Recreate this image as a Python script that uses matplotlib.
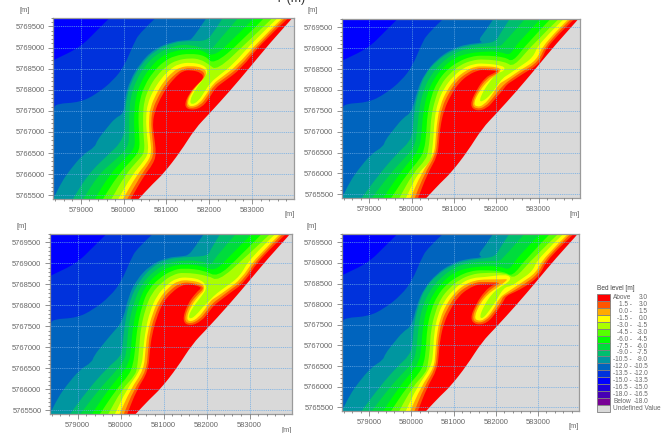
import matplotlib
matplotlib.use('Agg')
import matplotlib.pyplot as plt
from matplotlib.patches import PathPatch, Rectangle
from matplotlib.path import Path
from matplotlib.ticker import MultipleLocator

plt.rcParams['font.family'] = ['Liberation Sans', 'DejaVu Sans']

# Contours are in km from this origin (x east, y north)
X0 = 578000
Y0 = 5765000

X_TICKS = [579000, 580000, 581000, 582000, 583000]
Y_TICKS = [5765500, 5766000, 5766500, 5767000, 5767500, 5768000, 5768500, 5769000, 5769500]

LEVELS = [-10.5, -9, -7.5, -6, -4.5, -3, -1.5, 0, 1.5, 3]
BAND_COLOURS = ['#0096a0', '#00be6e', '#00dc3c', '#00ff00', '#55ff00', '#aaff00',
                '#ffff00', '#ffaa00', '#ff5500', '#ff0000']
BACKGROUND = '#0000ff'
COLOUR_135 = '#0032dc'
COLOUR_120 = '#0064be'
UNDEFINED = '#d9d9d9'

C_135 = [(1.72, 4.75), (1.37, 4.40), (0.98, 4.00), (0.35, 3.70), (0.10, 3.55)]
C_120 = [(2.80, 4.75), (2.38, 4.36), (2.23, 4.08), (2.02, 3.57), (1.76, 3.22), (1.37, 2.90),
         (0.98, 2.70), (0.43, 2.67), (0.36, 2.55), (0.35, 1.90), (0.30, 1.70)]
C_UNDEF = [(5.98, 4.75), (5.93, 4.68), (5.43, 4.12), (4.95, 3.53), (4.49, 2.98), (4.00, 2.43),
           (3.67, 2.08), (3.32, 1.52), (2.93, 1.01), (2.69, 0.78), (2.34, 0.40), (2.30, 0.35)]

UPPER = {
    -10.5: [(3.97, 4.75), (3.71, 4.36), (3.58, 4.20)],
    -9: [(4.35, 4.75), (4.10, 4.36)],
    -7.5: [(4.72, 4.75), (4.18, 4.12)],
    -6: [(5.10, 4.75), (4.49, 4.12)],
    -4.5: [(5.33, 4.75), (4.73, 4.12)],
    -3: [(5.53, 4.75), (4.88, 4.12)],
    -1.5: [(5.65, 4.75), (5.00, 4.12)],
    0: [(5.76, 4.75), (5.12, 4.12)],
    1.5: [(5.82, 4.75), (5.18, 4.12)],
    3: [(5.90, 4.75), (5.23, 4.12)],
}
LOWER = {
    -10.5: [(1.80, 2.33), (1.59, 2.07), (1.38, 1.80), (1.33, 1.64), (1.05, 1.47), (0.74, 1.09),
            (0.55, 0.81), (0.35, 0.40), (0.33, 0.35)],
    -9: [(0.78, 0.35)],
    -7.5: [(1.02, 0.35)],
    -6: [(1.29, 0.35)],
    -4.5: [(1.48, 0.35)],
    -3: [(1.68, 0.35)],
    -1.5: [(1.84, 0.35)],
    0: [(1.95, 0.35)],
    1.5: [(2.05, 0.35)],
    3: [(2.13, 0.35)],
}

PANEL_1 = {
    -10.5: [(3.55, 4.18), (3.16, 4.15), (2.70, 3.96), (2.38, 3.62), (2.15, 3.22), (2.03, 2.82), (2.00, 2.43)],
    -9: [(3.93, 4.15), (3.55, 4.16), (3.16, 4.12), (2.73, 3.93), (2.42, 3.61), (2.19, 3.22), (2.07, 2.82),
         (2.03, 2.43), (2.03, 2.00), (1.91, 1.72), (1.68, 1.50), (1.17, 1.00)],
    -7.5: [(4.04, 3.93), (3.55, 4.08), (3.16, 4.04), (2.77, 3.85), (2.50, 3.57), (2.29, 3.22), (2.16, 2.82),
           (2.13, 2.43), (2.13, 1.96), (2.11, 1.64), (1.80, 1.33), (1.42, 1.00)],
    -6: [(4.08, 3.77), (3.79, 3.96), (3.55, 3.96), (3.16, 3.92), (2.85, 3.77), (2.59, 3.49), (2.40, 3.18),
         (2.28, 2.82), (2.24, 2.43), (2.25, 1.96), (2.27, 1.60), (1.99, 1.33), (1.68, 1.00)],
    -4.5: [(4.10, 3.59), (3.91, 3.81), (3.55, 3.86), (3.20, 3.81), (2.93, 3.67), (2.68, 3.41), (2.50, 3.12),
           (2.38, 2.78), (2.34, 2.43), (2.36, 1.96), (2.38, 1.56), (2.19, 1.33), (1.88, 1.00)],
    -3: [(4.18, 3.45), (3.98, 3.61), (3.79, 3.72), (3.55, 3.75), (3.24, 3.70), (3.01, 3.57), (2.77, 3.33),
         (2.59, 3.04), (2.48, 2.74), (2.45, 2.39), (2.46, 1.96), (2.50, 1.52), (2.34, 1.33), (2.05, 1.00)],
    -1.5: [(4.57, 3.61), (4.22, 3.33), (4.04, 3.18), (3.88, 2.94), (3.75, 2.73), (3.59, 2.64), (3.54, 2.74),
           (3.67, 3.00), (3.87, 3.26), (3.98, 3.44), (3.87, 3.59), (3.55, 3.65), (3.28, 3.61), (3.09, 3.49),
           (2.87, 3.26), (2.68, 2.96), (2.56, 2.67), (2.52, 2.35), (2.54, 1.96), (2.59, 1.52), (2.46, 1.29),
           (2.21, 1.00)],
    0: [(4.65, 3.57), (4.27, 3.28), (4.09, 3.14), (3.93, 2.89), (3.77, 2.67), (3.57, 2.59), (3.48, 2.68),
        (3.59, 2.94), (3.79, 3.18), (3.95, 3.36), (3.88, 3.52), (3.55, 3.57), (3.32, 3.53), (3.15, 3.43),
        (2.93, 3.19), (2.76, 2.90), (2.63, 2.60), (2.59, 2.31), (2.60, 1.96), (2.66, 1.50), (2.54, 1.26),
        (2.32, 1.00)],
    1.5: [(4.70, 3.53), (4.30, 3.23), (4.10, 3.09), (3.96, 2.84), (3.79, 2.62), (3.55, 2.55), (3.45, 2.65),
          (3.55, 2.92), (3.75, 3.15), (3.91, 3.31), (3.85, 3.46), (3.55, 3.52), (3.36, 3.48), (3.20, 3.37),
          (2.98, 3.14), (2.81, 2.84), (2.68, 2.55), (2.64, 2.27), (2.66, 1.96), (2.71, 1.48), (2.60, 1.25),
          (2.42, 1.00)],
    3: [(4.74, 3.49), (4.34, 3.19), (4.14, 3.04), (4.01, 2.81), (3.82, 2.57), (3.55, 2.51), (3.41, 2.62),
        (3.52, 2.90), (3.71, 3.12), (3.88, 3.28), (3.81, 3.41), (3.55, 3.47), (3.38, 3.44), (3.24, 3.33),
        (3.03, 3.09), (2.85, 2.78), (2.73, 2.49), (2.68, 2.23), (2.70, 1.96), (2.77, 1.47), (2.67, 1.21),
        (2.50, 1.00)],
}

PANEL_2 = {
    -10.5: [(3.70, 4.13), (3.31, 4.10), (2.95, 3.98), (2.60, 3.74), (2.30, 3.38), (2.13, 2.98), (2.01, 2.47)],
    -9: [(3.98, 4.15), (3.70, 4.11), (3.31, 4.06), (2.95, 3.94), (2.60, 3.70), (2.32, 3.38), (2.17, 2.98),
         (2.06, 2.51), (2.03, 2.00), (1.95, 1.75), (1.68, 1.50), (1.25, 1.00)],
    -7.5: [(4.08, 4.04), (3.70, 4.04), (3.31, 3.99), (2.99, 3.87), (2.68, 3.63), (2.43, 3.32), (2.26, 2.94),
           (2.17, 2.47), (2.13, 1.99), (2.07, 1.63), (1.80, 1.33), (1.50, 1.00)],
    -6: [(4.33, 3.82), (4.09, 3.92), (3.70, 3.92), (3.35, 3.88), (3.03, 3.78), (2.76, 3.56), (2.52, 3.26),
         (2.36, 2.89), (2.27, 2.43), (2.24, 1.99), (2.19, 1.60), (1.99, 1.33), (1.72, 1.00)],
    -4.5: [(4.39, 3.66), (4.21, 3.79), (3.70, 3.83), (3.39, 3.80), (3.09, 3.67), (2.83, 3.48), (2.61, 3.20),
           (2.46, 2.84), (2.37, 2.39), (2.35, 1.95), (2.30, 1.56), (2.19, 1.33), (1.90, 1.00)],
    -3: [(4.41, 3.54), (4.21, 3.68), (3.70, 3.74), (3.43, 3.71), (3.15, 3.60), (2.91, 3.40), (2.69, 3.13),
         (2.56, 2.79), (2.46, 2.35), (2.44, 1.91), (2.39, 1.52), (2.34, 1.33), (2.03, 1.00)],
    -1.5: [(4.88, 3.78), (4.53, 3.54), (4.29, 3.37), (4.16, 3.29), (4.02, 3.10), (3.86, 2.87), (3.66, 2.71),
           (3.60, 2.75), (3.70, 2.98), (3.86, 3.22), (4.02, 3.40), (4.20, 3.46), (4.19, 3.58), (3.70, 3.64),
           (3.46, 3.62), (3.21, 3.52), (2.98, 3.32), (2.77, 3.05), (2.62, 2.71), (2.54, 2.29), (2.52, 1.87),
           (2.48, 1.49), (2.46, 1.29), (2.14, 1.00)],
    0: [(4.96, 3.71), (4.57, 3.48), (4.32, 3.30), (4.19, 3.22), (4.06, 3.14), (3.90, 2.87), (3.70, 2.63),
        (3.54, 2.59), (3.46, 2.68), (3.61, 2.98), (3.82, 3.24), (4.00, 3.35), (4.13, 3.48), (4.02, 3.55),
        (3.70, 3.57), (3.50, 3.56), (3.27, 3.46), (3.03, 3.26), (2.83, 2.98), (2.68, 2.64), (2.60, 2.23),
        (2.57, 1.83), (2.54, 1.46), (2.23, 1.00)],
    1.5: [(5.00, 3.67), (4.61, 3.44), (4.35, 3.26), (4.22, 3.16), (4.11, 3.05), (3.94, 2.83), (3.74, 2.59),
          (3.53, 2.54), (3.42, 2.65), (3.56, 2.98), (3.78, 3.28), (3.98, 3.37), (4.08, 3.46), (3.98, 3.51),
          (3.70, 3.52), (3.54, 3.52), (3.31, 3.41), (3.07, 3.22), (2.88, 2.93), (2.72, 2.59), (2.64, 2.17),
          (2.61, 1.79), (2.57, 1.44), (2.31, 1.00)],
    3: [(5.04, 3.63), (4.65, 3.40), (4.39, 3.22), (4.25, 3.13), (4.16, 3.00), (3.98, 2.79), (3.78, 2.55),
        (3.53, 2.49), (3.37, 2.63), (3.53, 3.00), (3.74, 3.30), (3.94, 3.40), (4.03, 3.46), (3.70, 3.48),
        (3.58, 3.47), (3.35, 3.37), (3.12, 3.17), (2.93, 2.88), (2.77, 2.53), (2.68, 2.13), (2.65, 1.75),
        (2.61, 1.41), (2.38, 1.00)],
}

PANEL_3 = {
    -10.5: [(3.46, 4.17), (3.07, 4.14), (2.68, 3.95), (2.37, 3.61), (2.18, 3.21), (2.05, 2.62)],
    -9: [(4.04, 4.17), (3.46, 4.15), (3.07, 4.10), (2.72, 3.91), (2.43, 3.57), (2.23, 3.17), (2.10, 2.62),
         (2.04, 1.98), (2.00, 1.78), (1.68, 1.50), (1.25, 1.00)],
    -7.5: [(4.13, 3.97), (3.84, 4.06), (3.46, 4.07), (3.11, 4.02), (2.78, 3.83), (2.49, 3.51), (2.32, 3.11),
           (2.19, 2.58), (2.14, 1.98), (2.10, 1.70), (1.80, 1.33), (1.50, 1.00)],
    -6: [(4.19, 3.81), (3.88, 3.95), (3.46, 3.98), (3.15, 3.93), (2.84, 3.75), (2.57, 3.45), (2.41, 3.05),
         (2.29, 2.54), (2.24, 1.98), (2.20, 1.62), (1.99, 1.33), (1.72, 1.00)],
    -4.5: [(4.25, 3.67), (3.96, 3.83), (3.46, 3.89), (3.19, 3.83), (2.90, 3.65), (2.64, 3.37), (2.50, 3.00),
           (2.39, 2.50), (2.34, 1.98), (2.29, 1.58), (2.19, 1.33), (1.90, 1.00)],
    -3: [(4.27, 3.57), (4.04, 3.71), (3.46, 3.79), (3.22, 3.73), (2.98, 3.57), (2.72, 3.29), (2.58, 2.93),
         (2.47, 2.46), (2.43, 1.98), (2.39, 1.54), (2.34, 1.33), (2.03, 1.00)],
    -1.5: [(4.78, 3.69), (4.43, 3.43), (4.19, 3.25), (4.04, 3.08), (3.92, 2.97), (3.77, 2.78), (3.63, 2.67),
           (3.57, 2.74), (3.71, 3.00), (3.88, 3.21), (4.02, 3.43), (3.88, 3.61), (3.57, 3.67), (3.30, 3.65),
           (3.07, 3.49), (2.84, 3.23), (2.68, 2.85), (2.58, 2.42), (2.53, 1.98), (2.49, 1.50), (2.14, 1.00)],
    0: [(4.81, 3.63), (4.47, 3.37), (4.23, 3.20), (4.09, 3.11), (3.98, 2.93), (3.81, 2.71), (3.63, 2.60),
        (3.52, 2.68), (3.65, 3.01), (3.84, 3.25), (3.96, 3.37), (3.91, 3.53), (3.61, 3.60), (3.34, 3.59),
        (3.12, 3.43), (2.90, 3.17), (2.74, 2.80), (2.63, 2.38), (2.58, 1.98), (2.54, 1.46), (2.23, 1.00)],
    1.5: [(4.85, 3.59), (4.50, 3.33), (4.27, 3.15), (4.14, 3.05), (4.02, 2.89), (3.84, 2.66), (3.61, 2.55),
          (3.47, 2.65), (3.60, 3.03), (3.81, 3.28), (3.94, 3.40), (3.86, 3.48), (3.61, 3.55), (3.38, 3.53),
          (3.17, 3.38), (2.95, 3.13), (2.79, 2.75), (2.68, 2.34), (2.64, 1.96), (2.60, 1.44), (2.31, 1.00)],
    3: [(4.89, 3.55), (4.54, 3.29), (4.31, 3.11), (4.17, 3.00), (4.06, 2.85), (3.88, 2.62), (3.61, 2.50),
        (3.43, 2.62), (3.55, 3.03), (3.77, 3.32), (3.88, 3.41), (3.83, 3.45), (3.61, 3.51), (3.42, 3.48),
        (3.21, 3.33), (2.99, 3.08), (2.84, 2.71), (2.73, 2.30), (2.68, 1.94), (2.64, 1.42), (2.38, 1.00)],
}

PANEL_4 = {
    -10.5: PANEL_2[-10.5],
    -9: PANEL_2[-9],
    -7.5: PANEL_2[-7.5],
    -6: PANEL_2[-6],
    -4.5: PANEL_2[-4.5],
    -3: [(4.45, 3.60), (4.25, 3.76), (3.70, 3.76), (3.43, 3.72), (3.15, 3.60), (2.91, 3.40), (2.69, 3.13),
         (2.56, 2.79), (2.46, 2.35), (2.44, 1.91), (2.39, 1.52), (2.34, 1.33), (2.03, 1.00)],
    -1.5: [(4.88, 3.80), (4.57, 3.58), (4.37, 3.44), (4.19, 3.40), (4.02, 3.10), (3.86, 2.86), (3.70, 2.65),
           (3.61, 2.68), (3.72, 2.96), (3.90, 3.24), (4.08, 3.40), (4.29, 3.52), (4.37, 3.65), (4.21, 3.72),
           (3.70, 3.65), (3.46, 3.64), (3.21, 3.53), (2.98, 3.33), (2.77, 3.06), (2.62, 2.72), (2.54, 2.30),
           (2.52, 1.88), (2.48, 1.49), (2.14, 1.00)],
    0: [(4.96, 3.76), (4.61, 3.52), (4.39, 3.37), (4.27, 3.29), (4.09, 3.16), (3.94, 2.86), (3.74, 2.62),
        (3.56, 2.59), (3.49, 2.69), (3.62, 3.00), (3.82, 3.25), (4.02, 3.39), (4.21, 3.53), (4.29, 3.61),
        (4.17, 3.60), (3.70, 3.60), (3.50, 3.57), (3.27, 3.48), (3.03, 3.28), (2.83, 3.00), (2.68, 2.65),
        (2.60, 2.24), (2.57, 1.84), (2.54, 1.46), (2.23, 1.00)],
    1.5: [(5.00, 3.72), (4.65, 3.47), (4.43, 3.33), (4.29, 3.25), (4.17, 3.18), (4.13, 3.07), (3.98, 2.84),
          (3.76, 2.58), (3.53, 2.54), (3.44, 2.68), (3.57, 3.00), (3.78, 3.28), (3.99, 3.44), (4.13, 3.53),
          (3.70, 3.54), (3.54, 3.53), (3.31, 3.43), (3.07, 3.24), (2.88, 2.94), (2.72, 2.60), (2.64, 2.18),
          (2.61, 1.80), (2.57, 1.44), (2.31, 1.00)],
    3: [(5.04, 3.68), (4.69, 3.42), (4.45, 3.29), (4.25, 3.20), (4.19, 3.08), (4.02, 2.81), (3.80, 2.54),
        (3.53, 2.49), (3.39, 2.65), (3.53, 3.00), (3.74, 3.32), (3.95, 3.48), (4.05, 3.50), (3.70, 3.49),
        (3.58, 3.48), (3.35, 3.38), (3.12, 3.19), (2.93, 2.89), (2.77, 2.54), (2.68, 2.13), (2.65, 1.76),
        (2.61, 1.41), (2.38, 1.00)],
}

PANELS = [PANEL_1, PANEL_2, PANEL_3, PANEL_4]

LEGEND_LOW = ['Above', '1.5 -', '0.0 -', '-1.5 -', '-3.0 -', '-4.5 -', '-6.0 -', '-7.5 -', '-9.0 -',
              '-10.5 -', '-12.0 -', '-13.5 -', '-15.0 -', '-16.5 -', '-18.0 -', 'Below', 'Undefined Value']
LEGEND_HIGH = ['3.0', '3.0', '1.5', '0.0', '-1.5', '-3.0', '-4.5', '-6.0', '-7.5', '-9.0',
               '-10.5', '-12.0', '-13.5', '-15.0', '-16.5', '-18.0', '']
LEGEND_COLOURS = ['#ff0000', '#ff5500', '#ffaa00', '#ffff00', '#aaff00', '#55ff00', '#00ff00', '#00dc3c',
                  '#00be6e', '#0096a0', '#0064be', '#0032dc', '#0000ff', '#1e00dc', '#4600b4', '#780096',
                  '#d9d9d9']

W, H = 663, 433
GREY = '#666666'
GRID = '#6aaae6'


def band_patch(points, colour):
    # Quadratic path through the midpoints, then round the bottom right outside the axes
    pts = [(X0 + x * 1000, Y0 + y * 1000) for x, y in points]
    verts = [pts[0]]
    codes = [Path.MOVETO]
    for a, b in zip(pts[1:-1], pts[2:]):
        verts += [a, ((a[0] + b[0]) / 2, (a[1] + b[1]) / 2)]
        codes += [Path.CURVE3, Path.CURVE3]
    verts += [pts[-1], (X0 + 100, pts[-1][1]), (X0 + 100, Y0 + 200), (X0 + 7000, Y0 + 200), (X0 + 7000, Y0 + 5000), pts[0]]
    codes += [Path.LINETO] * 5 + [Path.CLOSEPOLY]
    return PathPatch(Path(verts, codes), facecolor=colour, edgecolor='none', lw=0)


def draw_panel(ax, mids):
    ax.set_facecolor(BACKGROUND)
    ax.add_patch(band_patch(C_135, COLOUR_135))
    ax.add_patch(band_patch(C_120, COLOUR_120))
    for level, colour in zip(LEVELS, BAND_COLOURS):
        ax.add_patch(band_patch(UPPER[level] + mids[level] + LOWER[level], colour))
    ax.add_patch(band_patch(C_UNDEF, UNDEFINED))

    ax.set_xlim(578350, 583980)
    ax.set_ylim(5765410, 5769700)
    ax.set_xticks(X_TICKS)
    ax.set_xticklabels([str(v) for v in X_TICKS])
    ax.set_yticks(Y_TICKS)
    ax.set_yticklabels([str(v) for v in Y_TICKS])
    ax.xaxis.set_minor_locator(MultipleLocator(200))
    ax.yaxis.set_minor_locator(MultipleLocator(100))
    ax.tick_params(which='major', length=3.5, width=0.5, color=GREY, labelsize=5.4, labelcolor=GREY, pad=2.5)
    ax.tick_params(which='minor', length=1.5, width=0.5, color=GREY)
    ax.grid(True, which='major', color=GRID, lw=0.5, ls=(0, (1.5, 1.2)))
    ax.set_axisbelow(False)
    for spine in ax.spines.values():
        spine.set_color('#9a9a9a')
        spine.set_linewidth(0.9)


fig = plt.figure(figsize=(W / 100, H / 100), dpi=100)

# Pixel boxes of the panels: left, right, top, bottom
boxes = [(53, 294, 18, 199), (341.7, 580, 19, 198), (49.7, 291.7, 234, 414), (341.7, 579.3, 234, 411)]
for box, mids in zip(boxes, PANELS):
    left, right, top, bottom = box
    ax = fig.add_axes([left / W, 1 - bottom / H, (right - left) / W, (bottom - top) / H])
    draw_panel(ax, mids)

# Overlay in pixel coordinates for the loose labels and the legend
over = fig.add_axes([0, 0, 1, 1], facecolor='none')
over.set_xlim(0, W)
over.set_ylim(H, 0)
over.axis('off')

for x, y in [(25, 10), (313, 10), (22, 226), (312, 227), (290, 215), (575, 214), (287, 430), (574, 427)]:
    over.text(x, y, '[m]', fontsize=5.4, color=GREY, ha='center', va='center')
over.text(290, -1, 'Y (m)', fontsize=9, color='#333333', ha='center', va='center')

over.text(597, 288, 'Bed level [m]', fontsize=4.7, color='#444444', va='center')
row_h = 118 / 17
for i, colour in enumerate(LEGEND_COLOURS):
    y = 294 + i * row_h
    over.add_patch(Rectangle((597, y), 12.5, row_h, facecolor=colour, edgecolor='#808080', lw=0.6))
    ha, x = ('left', 613) if i in (0, 15, 16) else ('right', 632)
    over.text(x, y + row_h / 2, LEGEND_LOW[i], fontsize=4.7, color=GREY, ha=ha, va='center')
    over.text(648, y + row_h / 2, LEGEND_HIGH[i], fontsize=4.7, color=GREY, ha='right', va='center')

fig.savefig('out.png', dpi=100)
